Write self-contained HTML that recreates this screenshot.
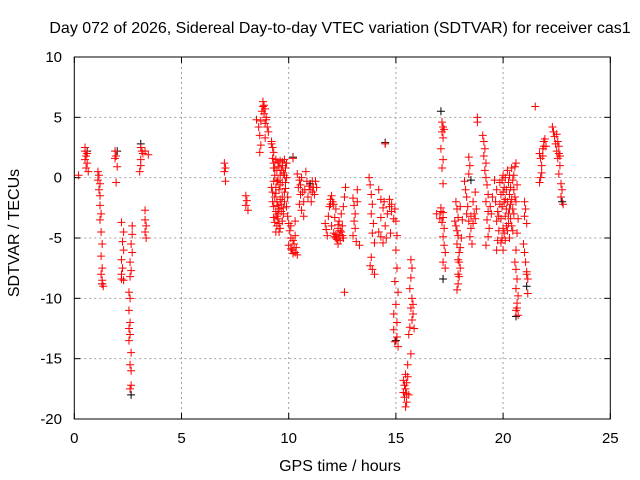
<!DOCTYPE html>
<html><head><meta charset="utf-8"><style>
body{margin:0;background:#fff}
svg{display:block;font-family:"Liberation Sans",sans-serif}
</style></head><body>
<svg id="chart" width="640" height="480">
<rect width="640" height="480" fill="#fff"/>
<g id="grid"></g>
<rect x="74.3" y="57" width="536" height="362" fill="none" stroke="#000" stroke-width="1"/>
<g id="ticks"></g>
<g id="marks"></g>
<text x="340" y="33" font-size="16" text-anchor="middle">Day 072 of 2026, Sidereal Day-to-day VTEC variation (SDTVAR) for receiver cas1</text>
<text x="340" y="471" font-size="16" text-anchor="middle">GPS time / hours</text>
<text x="19" y="233" font-size="16" text-anchor="middle" transform="rotate(-90 19 233)">SDTVAR / TECUs</text>
</svg>
<script>
const xTicks=[0,5,10,15,20,25];
const yTicks=[10,5,0,-5,-10,-15,-20];
const blackPts=[[3.1,2.8],[2.0,2.2],[2.65,-18.0],[10.2,1.7],[14.5,2.9],[17.1,5.5],[18.5,-0.2],[22.75,-2.0],[15.0,-13.5],[1.3,-8.8],[20.6,-11.5],[11.0,-0.5],[21.1,-9.0],[17.2,-8.4],[0.6,2.2]];
const redPts=[
[0.2,0.2],
[0.5,2.5],[0.5,2.2],[0.55,1.8],[0.5,1.5],[0.6,1.2],[0.55,0.8],[0.65,0.5],[0.6,2.0],
[1.1,0.5],[1.15,0.2],[1.1,-0.2],[1.2,-0.5],[1.15,-1],[1.2,-1.5],[1.2,-2.3],[1.25,-3],[1.2,-3.5],[1.25,-4.5],[1.3,-5.5],[1.25,-6.5],[1.3,-7.5],[1.25,-8],[1.3,-8.5],[1.3,-8.8],[1.35,-9],
[1.9,2.2],[1.95,1.8],[1.9,1.6],[2.0,0.9],[1.95,-0.4],
[2.2,-3.7],[2.3,-4.5],[2.25,-5.3],[2.3,-6],[2.2,-6.8],[2.25,-7.5],[2.2,-8],[2.3,-8.5],[2.2,-8.4],
[2.7,-4],[2.7,-4.7],[2.65,-5.5],[2.7,-6.2],[2.6,-7],[2.65,-7.7],[2.6,-8.2],[2.55,-9.5],[2.6,-10],[2.55,-11],[2.6,-12],[2.55,-12.5],[2.6,-13],[2.55,-13.5],[2.65,-14.5],[2.6,-15.5],[2.65,-16],[2.6,-17.5],[2.65,-17.2],
[3.1,2.5],[3.15,2.2],[3.2,2.0],[3.3,2.2],[3.45,1.9],[3.1,1],[3.05,0.5],[3.1,1.5],[3.3,-2.7],[3.3,-3.5],[3.35,-4],[3.3,-4.5],[3.35,-5],
[7.0,1.2],[7.05,0.8],[7.0,0.5],[7.05,-0.3],
[8.0,-1.5],[8.05,-1.9],[8.0,-2.3],[8.1,-2.7],
[8.8,6.3],[8.85,6],[8.9,5.7],[8.85,5.3],[8.95,5],[8.9,4.5],[9.0,4.2],[9.05,3.8],[8.9,3.3],[8.7,4.7],[8.6,4.2],[8.65,3.5],[8.7,2.7],[8.65,2.1],[8.5,4.8],[8.8,5.9],[8.75,5.5],[8.95,4.8],
[9.2,3.0],[9.25,2.5],[9.3,2.1],[9.25,1.6],[9.2,2.8],
[9.3,1.2],[9.4,1.5],[9.5,1.3],[9.55,0.9],[9.6,1.4],[9.45,0.6],[9.35,0.2],[9.3,-0.3],[9.4,-0.8],[9.25,-1.2],[9.35,-1.6],[9.45,-2.0],[9.3,-2.4],[9.4,-2.8],[9.3,-3.3],[9.35,-3.7],[9.5,-0.2],[9.55,-1.0],[9.6,-1.8],[9.55,-2.6],[9.5,-3.4],[9.6,-4.2],[9.5,-3.0],[9.7,1.0],[9.75,0.4],[9.7,-0.4],[9.8,-1.2],[9.65,-2.2],[9.75,-3.0],[9.8,1.5],[9.85,0.8],[9.9,0],[9.85,-0.9],[9.95,-1.6],[9.9,-2.4],[9.95,-3.2],[10.0,-3.8],[10.05,-4.4],[10.1,-5.0],[10.0,-5.6],[10.15,-6.0],[10.2,-6.3],[10.25,-5.5],[10.3,-4.8],[10.35,-5.8],[10.4,-6.4],[10.3,-3.6],[10.2,1.6],[9.9,1.2],[9.2,-0.8],[9.25,-2.0],[9.6,0.2],[9.7,-3.6],[9.8,-2.0],
[9.35,0.8],[9.45,-0.3],[9.4,-1.3],[9.5,-2.3],[9.45,-3.2],[9.65,0.6],[9.6,-0.6],[9.7,-1.6],[9.65,-2.8],[9.55,-3.8],[9.8,0.2],[9.85,-0.4],[9.75,-2.5],[9.45,-4.0],[9.4,-4.5],[9.55,-4.5],[10.1,-4.0],[10.2,-5.2],[10.1,-5.9],[10.3,-6.2],[9.3,0.8],[9.7,1.3],
[10.4,0.3],[10.5,-0.2],[10.45,-0.8],[10.55,-1.4],[10.5,-2.2],[10.6,-2.7],[10.7,-3.2],[10.75,-1.0],[10.8,0.5],[10.85,-0.3],[10.9,-1.6],[10.7,-2.0],[11.0,-1.0],[11.1,-0.3],[11.15,-0.8],[11.2,-1.4],[11.3,-0.8],[11.25,-0.3],[11.05,-2.0],[10.6,0.0],[10.65,-1.2],[10.55,-0.6],[10.95,-0.7],[11.1,-1.2],
[11.7,-3.8],[11.75,-4.3],[11.8,-4.8],[11.85,-3.2],[11.9,-2.4],[11.95,-1.8],[12.0,-1.5],[12.1,-2.2],[12.2,-2.6],[12.0,-4.0],[12.1,-4.6],[12.2,-5.0],[12.3,-4.2],[12.35,-3.6],[12.4,-5.2],[12.5,-4.8],[12.45,-3.0],[12.55,-2.4],[12.6,-1.6],[12.65,-0.8],[12.5,-4.0],[12.6,-9.5],[12.3,-5.5],[12.15,-3.3],
[12.05,-2.0],[12.2,-4.7],[12.25,-5.1],[12.35,-4.8],[12.45,-4.5],[12.55,-5.0],[12.3,-3.9],[12.4,-4.4],[12.15,-4.9],[11.95,-2.2],
[13.0,-1.7],[13.05,-2.3],[13.1,-3.0],[13.05,-3.6],[13.1,-4.2],[13.0,-4.8],[13.15,-5.3],[13.3,-5.6],[13.2,-1.0],[13.2,-2.0],
[13.75,0.0],[13.8,-0.6],[13.85,-1.4],[13.9,-2.2],[13.85,-3.0],[13.95,-3.8],[13.9,-4.6],[14.0,-5.4],[13.85,-6.6],[13.8,-7.3],[13.9,-7.6],[14.0,-8.0],
[14.2,-1.0],[14.3,-1.8],[14.4,-2.5],[14.3,-3.3],[14.2,-4.5],[14.3,-4.9],[14.4,-5.4],[14.5,-4.0],[14.6,-3.0],[14.7,-2.4],[14.8,-2.8],[14.9,-3.4],[14.75,-4.6],[14.55,-5.0],[14.5,2.8],[14.45,-2.0],[14.7,-1.8],[14.8,-2.2],
[14.95,-2.6],[15.0,-3.6],[15.05,-4.8],[15.0,-6.0],[15.05,-7.5],[14.95,-8.6],[15.1,-9.5],[15.0,-10.5],[14.9,-11.3],[15.05,-12.0],[14.9,-12.6],[15.05,-13.2],[15.1,-14.0],[14.95,-13.6],
[15.35,-16.8],[15.4,-17.2],[15.45,-17.5],[15.5,-17.9],[15.4,-18.2],[15.5,-18.6],[15.45,-19.0],[15.55,-16.5],[15.5,-17.0],[15.6,-18.0],[15.35,-17.8],[15.45,-16.3],
[15.7,-6.8],[15.75,-7.5],[15.7,-8.3],[15.65,-9.2],[15.75,-10.0],[15.7,-10.8],[15.8,-11.3],[15.75,-11.8],[15.65,-12.4],[15.6,-13.0],[15.7,-14.6],[15.55,-15.5],[15.85,-12.5],[15.8,-10.5],
[17.15,4.6],[17.2,4.2],[17.15,3.8],[17.2,3.3],[17.1,2.4],[17.2,1.5],[17.15,0.8],[17.2,-0.5],[17.25,4.0],
[16.9,-3.0],[17.1,-2.8],[17.2,-3.3],[17.15,-3.7],[17.25,-4.2],[17.2,-4.9],[17.25,-5.6],[17.3,-6.2],[17.2,-7.0],[17.3,-7.5],[17.05,-3.4],[17.1,-2.5],[17.2,-2.9],
[17.8,-2.0],[17.85,-2.6],[17.9,-3.3],[17.8,-4.0],[17.9,-4.8],[17.85,-5.5],[17.95,-6.2],[17.9,-6.8],[18.0,-7.5],[17.95,-8.2],[17.9,-8.8],[17.85,-9.3],[18.05,-5.0],[18.1,-3.5],[18.0,-2.4],[17.75,-3.6],[17.95,-7.0],[18.0,-5.8],[17.9,-8.0],[17.85,-4.4],
[18.2,-0.3],[18.25,-1.0],[18.3,-1.6],[18.35,-2.4],[18.3,-3.0],[18.4,-3.6],[18.5,-4.2],[18.45,-4.9],[18.55,-5.5],[18.6,-2.0],[18.65,-3.0],[18.7,-1.2],[18.75,-2.6],[18.4,1.7],[18.45,1.0],[18.4,0.3],[18.8,5.0],[18.8,4.6],[18.5,-3.2],[18.6,-3.8],[18.7,-3.4],
[19.05,3.5],[19.1,3.0],[19.15,2.4],[19.1,1.8],[19.2,1.2],[19.15,0.6],[19.2,0.0],[19.25,-0.6],[19.3,-1.4],[19.2,-2.0],[19.3,-2.8],[19.25,-3.5],[19.35,-4.2],[19.3,-4.9],[19.2,-5.6],[19.4,-2.4],[19.45,-3.0],[19.5,-1.6],
[19.6,-0.2],[19.7,-1.0],[19.65,-2.0],[19.75,-2.8],[19.7,-3.6],[19.8,-4.4],[19.75,-5.2],[19.7,-6.0],[19.85,-0.4],[19.9,-1.4],[19.95,-2.4],[19.9,-3.4],[20.0,-4.2],[20.0,0.2],[20.05,-0.8],[20.1,-1.8],[20.15,-2.6],[20.1,-3.2],[20.2,0.6],[20.25,-0.4],[20.3,-1.4],[20.35,-2.2],[20.4,0.8],[20.45,-0.2],[20.5,-1.0],[20.55,0.9],[20.6,1.2],[20.65,-0.6],[20.5,-3.0],[20.4,-4.0],[20.3,-5.0],[20.2,-4.4],[20.1,-5.2],[20.0,-6.0],[19.9,-5.4],[20.05,-4.6],[20.35,-3.4],[20.6,-2.0],[20.7,-3.4],[20.65,-4.6],[20.6,-6.0],[20.55,-7.0],
[19.95,-0.2],[20.0,-1.2],[20.05,-2.0],[20.1,0.0],[20.15,-1.0],[20.2,-2.0],[20.25,-3.0],[20.3,0.2],[20.35,-0.8],[20.4,-1.8],[20.45,-2.6],[20.5,0.2],[20.55,-1.6],[20.25,-3.8],[20.15,-4.0],[19.95,-5.0],[20.45,-4.4],[19.85,-2.2],[19.8,-3.2],[20.3,-2.6],
[20.6,-7.6],[20.65,-8.4],[20.6,-9.2],[20.7,-9.8],[20.65,-10.4],[20.6,-11.0],[20.7,-11.4],[20.65,-10.8],
[21.0,-2.0],[21.05,-2.6],[21.0,-3.2],[21.1,-3.8],[20.95,-5.5],[21.0,-6.2],[21.05,-7.0],[21.1,-7.8],[21.15,-8.4],[21.15,-9.6],[21.1,-8.0],
[21.7,2.0],[21.75,1.6],[21.8,1.0],[21.85,2.4],[21.9,3.0],[21.95,3.2],[21.8,0.4],[21.7,-0.4],[22.0,2.6],[21.75,0.0],[21.5,5.9],[21.85,1.8],[21.9,2.6],
[22.3,4.2],[22.35,3.8],[22.4,3.4],[22.45,2.8],[22.5,2.2],[22.55,1.6],[22.6,2.6],[22.65,1.0],[22.6,0.3],[22.7,-0.5],[22.75,-1.0],[22.7,-1.6],[22.8,-2.2],[22.5,3.6],[22.65,1.8],[22.55,3.0],[22.6,2.0]
];
const NS='http://www.w3.org/2000/svg';
const L=74.3,R=610.3,T=57,B=419;
function sx(v){return L+(v-0)/(25-0)*(R-L);}
function sy(v){return B-(v+20)/(10+20)*(B-T);}
function mk(tag,attrs,parent){const e=document.createElementNS(NS,tag);for(const k in attrs)e.setAttribute(k,attrs[k]);parent.appendChild(e);return e;}
const grid=document.getElementById('grid'),ticks=document.getElementById('ticks'),marks=document.getElementById('marks');
xTicks.forEach(t=>{
  const x=sx(t);
  if(t>0&&t<25){const g=mk('line',{x1:x,y1:T,x2:x,y2:B,stroke:'#a0a0a0','stroke-dasharray':'2,3'},grid);
    
    }
  mk('line',{x1:x,y1:B,x2:x,y2:B-6,stroke:'#000'},ticks);
  mk('line',{x1:x,y1:T,x2:x,y2:T+6,stroke:'#000'},ticks);
  const lb=mk('text',{x:x,y:443,'font-size':15,'text-anchor':'middle'},ticks);
  lb.textContent=t;
  
  
});
yTicks.forEach(t=>{
  const y=sy(t);
  if(t>-20&&t<10){const g=mk('line',{x1:L,y1:y,x2:R,y2:y,stroke:'#a0a0a0','stroke-dasharray':'2,3'},grid);
    
    }
  mk('line',{x1:L,y1:y,x2:L+6,y2:y,stroke:'#000'},ticks);
  mk('line',{x1:R,y1:y,x2:R-6,y2:y,stroke:'#000'},ticks);
  const lb=mk('text',{x:62,y:y+5,'font-size':15,'text-anchor':'end'},ticks);
  lb.textContent=t;
  
  
});
function cross(p,color,name){
  const x=sx(p[0]),y=sy(p[1]);
  const e=mk('path',{d:`M${x-4},${y}h8M${x},${y-4}v8`,stroke:color,'stroke-width':1,fill:'none'},marks);
  
  
}
blackPts.forEach(p=>cross(p,'#000','black-point'));
redPts.forEach(p=>cross(p,'#ff0000','red-point'));
</script>
</body></html>
